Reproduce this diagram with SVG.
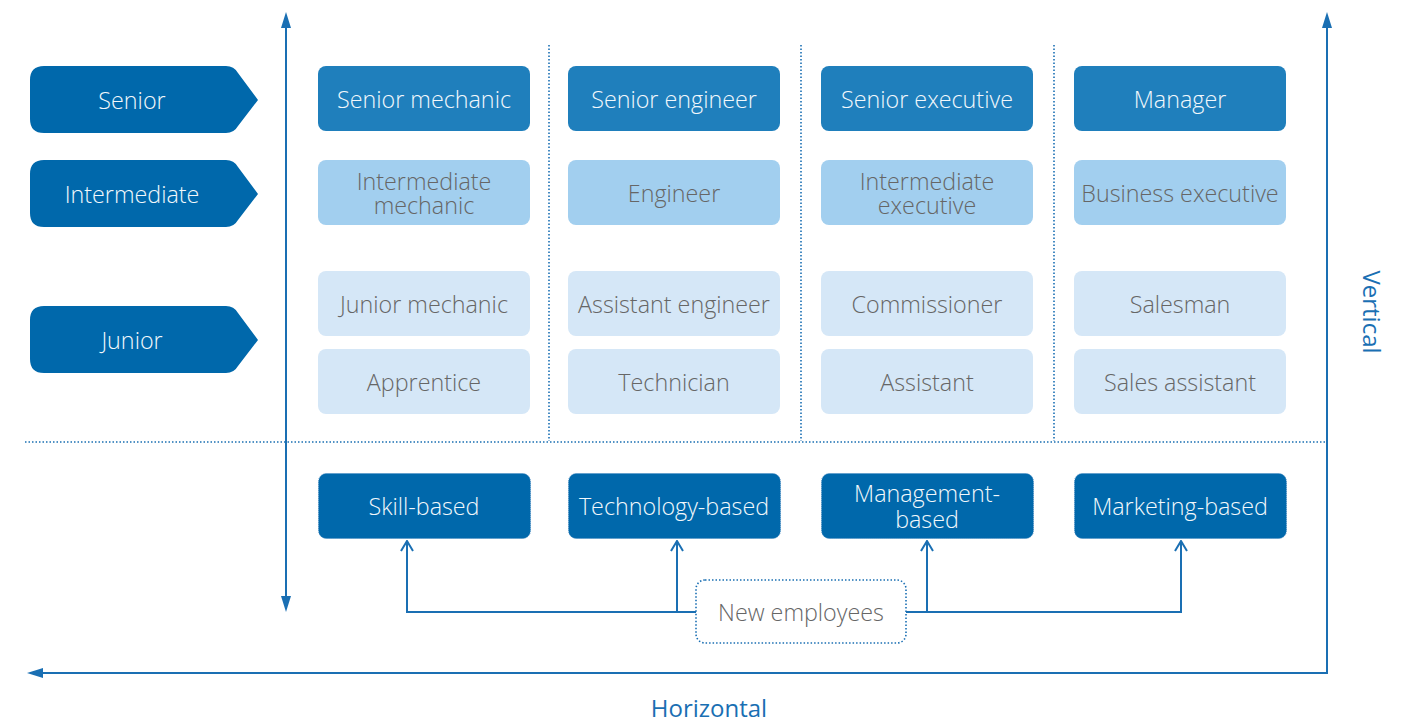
<svg xmlns="http://www.w3.org/2000/svg" width="1427" height="721" viewBox="0 0 1427 721">
<defs>
<style>
text{font-family:"Open Sans","Noto Sans","Liberation Sans",sans-serif;font-size:23.3px;font-weight:300;text-anchor:middle;dominant-baseline:central}
.lvl{fill:#0068ab}
.lvl text,.dk text,.md text{fill:#f2f8fc}
.md rect{fill:#1f7fbc}
.lt rect{fill:#a2cfef}
.xl rect{fill:#d5e7f7}
.lt text,.xl text{fill:#666}
.dk rect{fill:#0068ab;stroke:#4d8fc4;stroke-width:1;stroke-dasharray:1 1}
.ax{stroke:#1a6fb3;stroke-width:2;fill:none}
.sep{stroke:#1a6fb3;stroke-width:1.6;stroke-dasharray:1.5 2;fill:none}
.cn{stroke:#1a6fb3;stroke-width:2;fill:none}
.axl{fill:#1a6fb3;font-weight:400;font-size:24px}
</style>
<marker id="oa" viewBox="0 0 12 14" refX="11" refY="7" markerWidth="12" markerHeight="14" markerUnits="userSpaceOnUse" orient="auto"><path d="M1,1 L11,7 L1,13" fill="none" stroke="#1a6fb3" stroke-width="2"/></marker>
</defs>
<rect width="1427" height="721" fill="#fff"/>

<g id="separators">
<line class="sep" x1="549" y1="45" x2="549" y2="441"/>
<line class="sep" x1="801" y1="45" x2="801" y2="441"/>
<line class="sep" x1="1054" y1="45" x2="1054" y2="441"/>
<line class="sep" x1="25" y1="442" x2="1326" y2="442"/>
</g>

<g id="axes">
<line class="ax" x1="286" y1="24" x2="286" y2="600"/>
<path d="M286,12 L281,28 L291,28 Z" fill="#1a6fb3"/>
<path d="M286,612 L281,596 L291,596 Z" fill="#1a6fb3"/>
<path class="ax" d="M1327,26 V673 H40"/>
<path d="M1327,12 L1322,28 L1332,28 Z" fill="#1a6fb3"/>
<path d="M27,673 L43,668 L43,678 Z" fill="#1a6fb3"/>
<text class="axl" x="1372" y="312" transform="rotate(90 1372 312)">Vertical</text>
<text class="axl" x="709" y="707">Horizontal</text>
</g>

<g id="level-senior" class="lvl"><path d="M44,66 H226 Q234,66 238,73 L258,100 L238,126 Q234,133 226,133 H44 Q30,133 30,119 V80 Q30,66 44,66 Z"/><text x="132" y="100">Senior</text></g>
<g id="level-intermediate" class="lvl"><path d="M44,160 H226 Q234,160 238,167 L258,194 L238,220 Q234,227 226,227 H44 Q30,227 30,213 V174 Q30,160 44,160 Z"/><text x="132" y="194">Intermediate</text></g>
<g id="level-junior" class="lvl"><path d="M44,306 H226 Q234,306 238,313 L258,340 L238,366 Q234,373 226,373 H44 Q30,373 30,359 V320 Q30,306 44,306 Z"/><text x="132" y="340">Junior</text></g>

<g id="senior-mechanic" class="md"><rect x="318" y="66" width="212" height="65" rx="8"/><text x="424" y="98.5">Senior mechanic</text></g>
<g id="senior-engineer" class="md"><rect x="568" y="66" width="212" height="65" rx="8"/><text x="674" y="98.5">Senior engineer</text></g>
<g id="senior-executive" class="md"><rect x="821" y="66" width="212" height="65" rx="8"/><text x="927" y="98.5">Senior executive</text></g>
<g id="manager" class="md"><rect x="1074" y="66" width="212" height="65" rx="8"/><text x="1180" y="98.5">Manager</text></g>

<g id="intermediate-mechanic" class="lt"><rect x="318" y="160" width="212" height="65" rx="8"/><text x="424" y="180.5">Intermediate<tspan x="424" dy="24.5">mechanic</tspan></text></g>
<g id="engineer" class="lt"><rect x="568" y="160" width="212" height="65" rx="8"/><text x="674" y="192.5">Engineer</text></g>
<g id="intermediate-executive" class="lt"><rect x="821" y="160" width="212" height="65" rx="8"/><text x="927" y="180.5">Intermediate<tspan x="927" dy="24.5">executive</tspan></text></g>
<g id="business-executive" class="lt"><rect x="1074" y="160" width="212" height="65" rx="8"/><text x="1180" y="192.5">Business executive</text></g>

<g id="junior-mechanic" class="xl"><rect x="318" y="271" width="212" height="65" rx="8"/><text x="424" y="303.5">Junior mechanic</text></g>
<g id="assistant-engineer" class="xl"><rect x="568" y="271" width="212" height="65" rx="8"/><text x="674" y="303.5">Assistant engineer</text></g>
<g id="commissioner" class="xl"><rect x="821" y="271" width="212" height="65" rx="8"/><text x="927" y="303.5">Commissioner</text></g>
<g id="salesman" class="xl"><rect x="1074" y="271" width="212" height="65" rx="8"/><text x="1180" y="303.5">Salesman</text></g>

<g id="apprentice" class="xl"><rect x="318" y="349" width="212" height="65" rx="8"/><text x="424" y="381.5">Apprentice</text></g>
<g id="technician" class="xl"><rect x="568" y="349" width="212" height="65" rx="8"/><text x="674" y="381.5">Technician</text></g>
<g id="assistant" class="xl"><rect x="821" y="349" width="212" height="65" rx="8"/><text x="927" y="381.5">Assistant</text></g>
<g id="sales-assistant" class="xl"><rect x="1074" y="349" width="212" height="65" rx="8"/><text x="1180" y="381.5">Sales assistant</text></g>

<g id="skill-based" class="dk"><rect x="318.5" y="473.5" width="212" height="65" rx="8"/><text x="424" y="506">Skill-based</text></g>
<g id="technology-based" class="dk"><rect x="568.5" y="473.5" width="212" height="65" rx="8"/><text x="674" y="506">Technology-based</text></g>
<g id="management-based" class="dk"><rect x="821.5" y="473.5" width="212" height="65" rx="8"/><text x="927" y="492.5">Management-<tspan x="927" dy="26">based</tspan></text></g>
<g id="marketing-based" class="dk"><rect x="1074.5" y="473.5" width="212" height="65" rx="8"/><text x="1180" y="506">Marketing-based</text></g>

<g id="new-employees"><rect x="696" y="580" width="210" height="63" rx="9" fill="#fff" stroke="#1a6fb3" stroke-width="1.6" stroke-dasharray="1.5 2"/><text x="801" y="612" fill="#666">New employees</text></g>

<g id="connectors">
<path class="cn" d="M696,612 H407 V541" marker-end="url(#oa)"/>
<path class="cn" d="M677,612 V541" marker-end="url(#oa)"/>
<path class="cn" d="M906,612 H1181 V541" marker-end="url(#oa)"/>
<path class="cn" d="M927,612 V541" marker-end="url(#oa)"/>
</g>
</svg>
